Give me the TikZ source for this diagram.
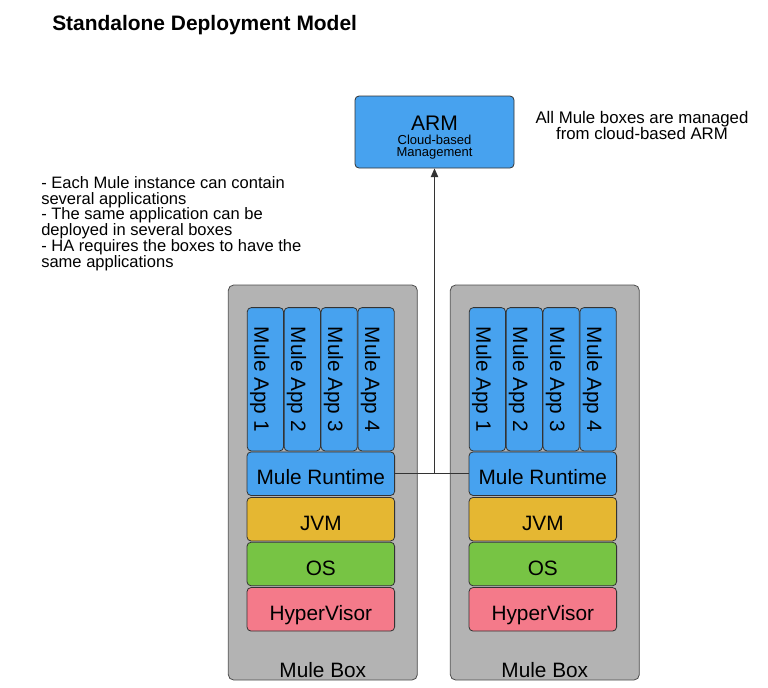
\documentclass[tikz,border=0pt]{standalone}
\usepackage{fontspec}
\setmainfont{Liberation Sans}
\usetikzlibrary{arrows.meta,positioning,calc}
\definecolor{muleblue}{HTML}{47A2EF}
\definecolor{muleyellow}{HTML}{E5B732}
\definecolor{mulegreen}{HTML}{77C444}
\definecolor{mulepink}{HTML}{F47A8A}
\definecolor{mulegray}{HTML}{B3B3B3}
\tikzset{
 mule line/.style={draw=black!80,line width=.75pt},
 mule flow/.style={-{Triangle[length=6.5pt,width=5.5pt]},line width=.75pt,draw=black!80},
 mule box/.style={draw=black!70,line width=.6pt,rounded corners=4pt,fill=mulegray,
   minimum width=141.75pt,minimum height=296.25pt},
 mule part/.style={draw=black!80,line width=.6pt,rounded corners=3pt,inner sep=0pt,
   font=\fontsize{15.6}{18}\selectfont},
 mule text/.style={text height=16.6pt,text depth=0pt},
 mule app/.style={mule part,mule text,fill=muleblue,rotate=-90,minimum width=107.5pt,minimum height=27.2pt},
 mule layer/.style={mule part,mule text,minimum width=110.7pt,minimum height=32.6pt},
 mule note/.style={inner sep=0pt,font=\fontsize{12.4}{11.8}\selectfont}
}

\begin{document}
\begin{tikzpicture}[x=.75pt,y=-.75pt]
\useasboundingbox (0,0) rectangle (768,687);
\node[anchor=west,inner sep=0pt,font=\bfseries\fontsize{15.7}{18}\selectfont] (title) at (52,25) {Standalone Deployment Model};
% cloud side
\node[mule part,fill=muleblue,minimum width=119.25pt,minimum height=54pt,align=center,
  font=\fontsize{9.75}{9}\selectfont] (arm) at (434.5,132)
  {{\fontsize{15.8}{15}\selectfont\rule{0pt}{19pt}ARM}\\[1.5pt]Cloud-based\\Management};
\node[mule note,align=center,font=\fontsize{12.6}{12}\selectfont] (managed) at (642,125)
  {All Mule boxes are managed\\from cloud-based ARM};
\node[mule note,align=left,anchor=west] (facts) at (41,223.5)
  {- Each Mule instance can contain\\several applications\\- The same application can be\\deployed in several boxes\\- HA requires the boxes to have the\\same applications};
% first box
\node[mule box] (box1) at (322.8,482.5) {};
\node[mule part,mule text,draw=none] (name1) at (322.8,666) {Mule Box};
\node[mule app] (app11) at (265.4,379.3) {Mule App 1};
\node[mule app] (app12) at (302.3,379.3) {Mule App 2};
\node[mule app] (app13) at (339.2,379.3) {Mule App 3};
\node[mule app] (app14) at (376.1,379.3) {Mule App 4};
\node[mule layer,fill=muleblue] (rt1) at (320.8,473.7) {Mule Runtime};
\node[mule layer,fill=muleyellow] (jvm1) at (320.8,519.2) {JVM};
\node[mule layer,fill=mulegreen] (os1) at (320.8,564) {OS};
\node[mule layer,fill=mulepink] (hv1) at (320.8,609.3) {HyperVisor};
% second box
\node[mule box] (box2) at (544.8,482.5) {};
\node[mule part,mule text,draw=none] (name2) at (544.8,666) {Mule Box};
\node[mule app] (app21) at (487.4,379.3) {Mule App 1};
\node[mule app] (app22) at (524.3,379.3) {Mule App 2};
\node[mule app] (app23) at (561.2,379.3) {Mule App 3};
\node[mule app] (app24) at (598.1,379.3) {Mule App 4};
\node[mule layer,fill=muleblue] (rt2) at (542.8,473.7) {Mule Runtime};
\node[mule layer,fill=muleyellow] (jvm2) at (542.8,519.2) {JVM};
\node[mule layer,fill=mulegreen] (os2) at (542.8,564) {OS};
\node[mule layer,fill=mulepink] (hv2) at (542.8,609.3) {HyperVisor};
% links to ARM
\draw[mule line] (rt1.east) -- (rt2.west);
\coordinate (hub) at (arm.south |- rt1.east);
\draw[mule flow] (hub) -- (arm.south);
\end{tikzpicture}
\end{document}
